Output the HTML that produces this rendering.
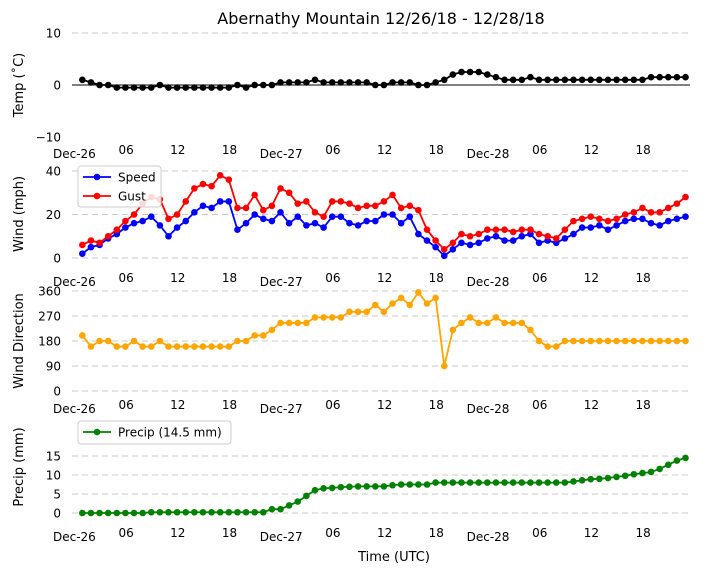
<!DOCTYPE html>
<html><head><meta charset="utf-8"><style>
html,body{margin:0;padding:0;background:#fff;}
svg{display:block;font-family:"DejaVu Sans","Liberation Sans",sans-serif;}
</style></head><body>
<svg id="c" width="704" height="573" viewBox="0 0 704 573">
<text x="381" y="24" font-size="16" text-anchor="middle">Abernathy Mountain 12/26/18 - 12/28/18</text>
<text x="394" y="561" font-size="13" text-anchor="middle">Time (UTC)</text>
</svg>
<script>
const hours = Array.from({length:71},(_,i)=>i+1);
const xTickLabels = ["Dec-26","06","12","18","Dec-27","06","12","18","Dec-28","06","12","18"];
const temp = [1,0.5,0,0,-0.5,-0.5,-0.5,-0.5,-0.5,0,-0.5,-0.5,-0.5,-0.5,-0.5,-0.5,-0.5,-0.5,0,-0.5,0,0,0,0.5,0.5,0.5,0.5,1,0.5,0.5,0.5,0.5,0.5,0.5,0,0,0.5,0.5,0.5,0,0,0.5,1,2,2.5,2.5,2.5,2,1.5,1,1,1,1.5,1,1,1,1,1,1,1,1,1,1,1,1,1,1.5,1.5,1.5,1.5,1.5];
const speed = [2,5,6,9,11,14,16,17,19,15,10,14,17,21,24,23,26,26,13,16,20,18,17,21,16,19,15,16,14,19,19,16,15,17,17,20,20,16,19,11,8,5,1,4,7,6,7,9,10,8,8,10,11,7,8,7,9,11,14,14,15,13,15,17,18,18,16,15,17,18,19];
const gust = [6,8,7,10,13,17,20,25,28,27,18,20,26,32,34,33,38,36,23,23,29,22,24,32,30,25,26,21,19,26,26,25,23,24,24,26,29,23,24,22,13,8,4,7,11,10,11,13,13,13,12,13,13,11,10,9,13,17,18,19,18,17,18,20,21,23,21,21,23,25,28];
const direction = [200,160,180,180,160,160,180,160,160,180,160,160,160,160,160,160,160,160,180,180,200,200,220,245,245,245,245,265,265,265,265,285,285,285,310,285,315,335,310,355,315,335,90,220,245,265,245,245,265,245,245,245,220,180,160,160,180,180,180,180,180,180,180,180,180,180,180,180,180,180,180];
const precip = [0,0,0,0,0,0,0,0,0.2,0.2,0.2,0.2,0.2,0.2,0.2,0.2,0.2,0.2,0.2,0.2,0.2,0.2,1,1,2,3,4.5,6,6.5,6.6,6.8,6.9,7,7,7,7,7.3,7.5,7.5,7.5,7.5,8,8,8,8,8,8,8,8,8,8,8,8,8,8,8,8,8.3,8.6,8.9,9,9.2,9.5,9.8,10.2,10.5,10.8,11.6,12.7,13.8,14.5];
const tempTicks=[10,0,-10], windTicks=[0,20,40], dirTicks=[0,90,180,270,360], precipTicks=[0,5,10,15];

const svg=document.getElementById('c');
const NS='http://www.w3.org/2000/svg';
function mk(tag,attrs,parent){const e=document.createElementNS(NS,tag);for(const k in attrs)e.setAttribute(k,attrs[k]);(parent||svg).appendChild(e);return e;}
const x=h=>74.4+(h-0.08)*8.617;
const X0=72,X1=690;
const panels=[
 {name:'temp',min:-10,max:10,top:33,bot:137,ticks:tempTicks,label:'Temp (˚C)',ly:85,dateY:158},
 {name:'wind',min:0,max:40,top:171,bot:258,ticks:windTicks,label:'Wind (mph)',ly:214,dateY:286},
 {name:'direction',min:0,max:360,top:291,bot:391,ticks:dirTicks,label:'Wind Direction',ly:341,dateY:413},
 {name:'precip',min:0,max:15,top:456,bot:513,ticks:precipTicks,label:'Precip (mm)',ly:467,dateY:541}
];
panels.forEach(p=>{
 p.y=v=>p.bot-(v-p.min)/(p.max-p.min)*(p.bot-p.top);
 const g=mk('g',{});
 
 
 p.ticks.forEach(t=>{
  if(!(p.name==='temp'&&t!==10)){
   const l=mk('line',{x1:X0,x2:X1,y1:p.y(t),y2:p.y(t),stroke:'#c8c8c8','stroke-width':1,'stroke-dasharray':'6,4'},g);
   
   
  }
  const tx=mk('text',{x:61,y:p.y(t)+4.5,'font-size':12,'text-anchor':'end'},g);
  tx.textContent=t<0?'−'+Math.abs(t):String(t);
  
  
 });
 xTickLabels.forEach((s,i)=>{
  const tx=mk('text',{x:74.4+i*6*8.617,y:i%4===0?p.dateY:p.dateY-4,'font-size':12,'text-anchor':'middle'},g);
  tx.textContent=s;
  
  
 });
 const yl=mk('text',{x:0,y:0,'font-size':13,'text-anchor':'middle',transform:`translate(23,${p.ly}) rotate(-90)`},g);
 yl.textContent=p.label;
 
 
});
const zl=mk('line',{x1:X0,x2:X1,y1:panels[0].y(0),y2:panels[0].y(0),stroke:'#000','stroke-width':1});



function series(p,vals,color,name,line){
 const g=mk('g',{});
 
 
 const pts=vals.map((v,i)=>[x(hours[i]),p.y(v)]);
 if(line){const pl=mk('polyline',{points:pts.map(a=>a.join(',')).join(' '),fill:'none',stroke:color,'stroke-width':1.8},g);
  
  }
 pts.forEach(a=>{const c=mk('circle',{cx:a[0],cy:a[1],r:3.3,fill:color},g);
  
  });
}
series(panels[0],temp,'#000','temp',true);
series(panels[1],speed,'#0000ff','speed',true);
series(panels[1],gust,'#ff0000','gust',true);
series(panels[2],direction,'#ffa500','direction',true);
series(panels[3],precip,'#008000','precip',true);

function legend(x0,y0,w,h,items){
 const g=mk('g',{});
 
 
 mk('rect',{x:x0,y:y0,width:w,height:h,rx:3,fill:'#fff','fill-opacity':0.85,stroke:'#ccc'},g);
 items.forEach((it,i)=>{
  const yy=y0+11+i*19;
  const e=mk('g',{},g);
  
  
  mk('line',{x1:x0+5,x2:x0+33,y1:yy,y2:yy,stroke:it[1],'stroke-width':1.8},e);
  mk('circle',{cx:x0+19,cy:yy,r:3.3,fill:it[1]},e);
  const t=mk('text',{x:x0+40,y:yy+4.5,'font-size':12},e);t.textContent=it[0];
 });
}
legend(78,166,83,41,[['Speed','#0000ff'],['Gust','#ff0000']]);
legend(78,421,153,23,[['Precip (14.5 mm)','#008000']]);
</script>
</body></html>
